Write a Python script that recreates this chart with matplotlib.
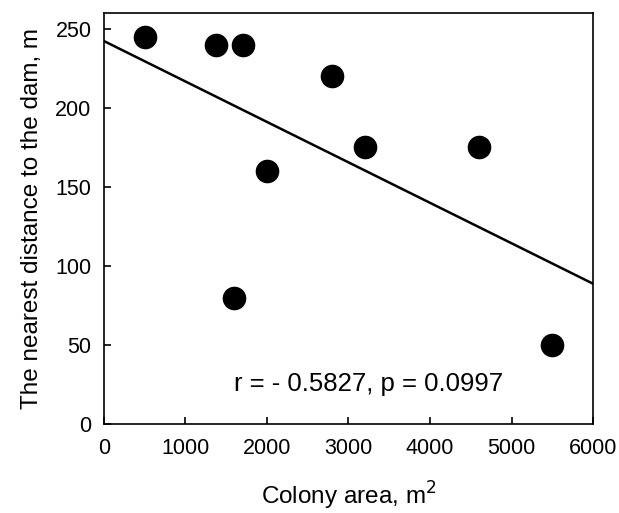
import numpy as np
import matplotlib
matplotlib.use("Agg")
import matplotlib.pyplot as plt

plt.rcParams['font.family'] = ['Liberation Sans', 'DejaVu Sans']

# colony area (m2) and nearest distance to the dam (m)
area = [500, 1380, 1700, 2000, 1600, 2800, 3200, 4600, 5500]
distance = [245, 240, 240, 160, 80, 220, 175, 175, 50]

x_ticks = [0, 1000, 2000, 3000, 4000, 5000, 6000]
y_ticks = [0, 50, 100, 150, 200, 250]

fig = plt.figure(figsize=(6.19, 5.13), dpi=100)
ax = fig.add_axes([0.168, 0.1735, 0.79, 0.801])

# linear fit
slope, intercept = np.polyfit(area, distance, 1)
xs = np.array([0, 6000])
ax.plot(xs, slope * xs + intercept, color='black', lw=1.8, zorder=2)

ax.plot(area, distance, 'o', color='black', markersize=16, zorder=3)

ax.text(3250, 25, "r = - 0.5827, p = 0.0997", fontsize=18.5,
        ha='center', va='center')

ax.set_xlim(0, 6000)
ax.set_ylim(0, 260)
ax.set_xticks(x_ticks)
ax.set_yticks(y_ticks)
ax.tick_params(direction='in', length=5, width=1.2, labelsize=15.5,
               top=False, right=False)
ax.tick_params(axis='x', pad=10)
ax.tick_params(axis='y', pad=9)
for s in ax.spines.values():
    s.set_linewidth(1.2)

ax.set_xlabel("Colony area, m$^2$", fontsize=17.5, labelpad=15)
ax.set_ylabel("The nearest distance to the dam, m", fontsize=17.5, labelpad=9)

fig.savefig("out.png", dpi=100)
